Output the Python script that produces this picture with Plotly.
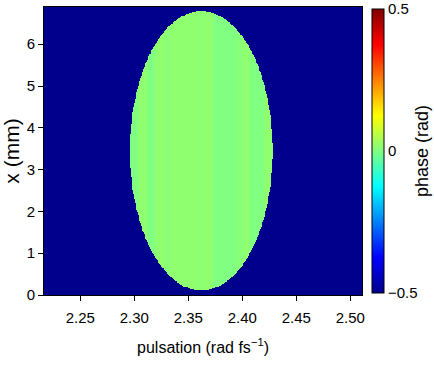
import numpy as np
import plotly.graph_objects as go

# ---- data ----
x_range = [2.2164, 2.5108]          # pulsation axis (rad fs^-1)
y_range = [0.0, 6.89]               # x (mm)
x_ticks = [2.25, 2.30, 2.35, 2.40, 2.45, 2.50]
y_ticks = [0, 1, 2, 3, 4, 5, 6]
cbar_ticks = [-0.5, 0, 0.5]
cbar_labels = ["−0.5", "0", "0.5"]

# beam footprint (ellipse) in data units
ell_center = (2.362, 3.45)
ell_semi = (0.066, 3.34)

# spectral-phase stripes: edges (pulsation) and the phase in each stripe
stripe_edges = [2.3034, 2.3118, 2.3192, 2.3294, 2.3331, 2.3604, 2.3613,
                2.3729, 2.3943, 2.3998, 2.4072, 2.4201]
stripe_phase = [0.0, 0.016, 0.0, 0.016, 0.008, 0.016, 0.008,
                0.016, 0.0, 0.008, 0.016, 0.0, 0.016]
background_phase = -0.5

# ---- grid ----
nx, ny = 420, 320
xs = np.linspace(x_range[0], x_range[1], nx)
ys = np.linspace(y_range[0], y_range[1], ny)
X, Y = np.meshgrid(xs, ys)
col_phase = np.array(stripe_phase)[np.searchsorted(stripe_edges, xs)]
inside = ((X - ell_center[0]) / ell_semi[0]) ** 2 + ((Y - ell_center[1]) / ell_semi[1]) ** 2 <= 1
Z = np.where(inside, col_phase[None, :], background_phase)

jet = [[0.0, "rgb(0,0,140)"], [0.125, "rgb(0,0,255)"], [0.375, "rgb(0,255,255)"],
       [0.625, "rgb(255,255,0)"], [0.875, "rgb(255,0,0)"], [1.0, "rgb(128,0,0)"]]

fam = "Liberation Sans, Arial, sans-serif"
tick_font = dict(family=fam, size=15, color="black")
xtitle_font = dict(family=fam, size=16, color="black")
ytitle_font = dict(family=fam, size=21, color="black")
ctitle_font = dict(family=fam, size=18, color="black")

fig = go.Figure(go.Heatmap(
    x=xs, y=ys, z=Z, colorscale=jet, zmin=-0.5, zmax=0.5, zsmooth=False,
    colorbar=dict(
        x=1.0314, xanchor="left", xref="paper",
        y=0.5, yanchor="middle", len=284, lenmode="pixels",
        thickness=12, thicknessmode="pixels",
        outlinewidth=1, outlinecolor="black",
        tickvals=cbar_ticks, ticktext=cbar_labels, ticks="",
        ticklabeloverflow="allow",
        tickfont=tick_font, ypad=0, xpad=0,
    ),
    hoverinfo="skip",
))

fig.add_annotation(text="phase (rad)", textangle=-90, font=ctitle_font,
                   xref="paper", yref="paper", x=1.1887, y=0.5,
                   xanchor="center", yanchor="middle", showarrow=False)

fig.update_layout(
    width=434, height=365,
    margin=dict(l=44, r=72, t=7, b=70, autoexpand=False),
    paper_bgcolor="white", plot_bgcolor="white",
    font=tick_font,
    xaxis=dict(range=x_range, tickvals=x_ticks, tickformat=".2f", automargin=False,
               ticks="outside", ticklen=5, tickcolor="black", tickfont=tick_font,
               ticklabelstandoff=4,
               showline=True, linecolor="black", linewidth=1, mirror=True,
               showgrid=False, zeroline=False,
               title=dict(text="pulsation (rad fs<sup>−1</sup>)", standoff=16, font=xtitle_font)),
    yaxis=dict(range=y_range, tickvals=y_ticks, automargin=False,
               ticks="outside", ticklen=5, tickcolor="black", tickfont=tick_font,
               showline=True, linecolor="black", linewidth=1, mirror=True,
               showgrid=False, zeroline=False,
               title=dict(text="x (mm)", standoff=4, font=ytitle_font)),
)

fig.write_html("out.html", config={"displayModeBar": False},
               post_script="document.body.style.margin='0';")
